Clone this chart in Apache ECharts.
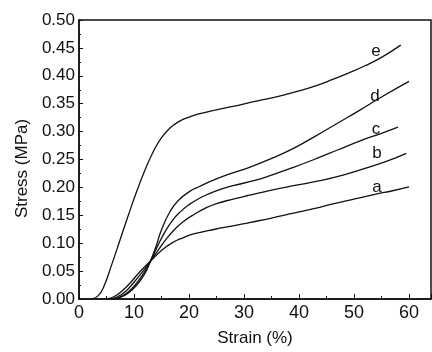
<!DOCTYPE html>
<html>
<head>
<meta charset="utf-8">
<script src="https://cdn.jsdelivr.net/npm/echarts@6/dist/echarts.min.js"></script>
<style>
  html, body { margin: 0; padding: 0; background: #fff; }
  #chart { width: 432px; height: 352px; }
</style>
</head>
<body>
<div id="chart"></div>
<script>
// strain (%) , stress (MPa)
const curveE = [[2.4,0],[3.5,0.006],[4.5,0.022],[6,0.063],[7.5,0.107],[9,0.151],[10.5,0.193],[12,0.231],[13.5,0.264],[15,0.289],[16.5,0.306],[18,0.317],[20,0.326],[22,0.332],[25,0.339],[28,0.345],[31,0.352],[34,0.358],[37,0.365],[40,0.373],[43,0.382],[46,0.393],[49,0.405],[52,0.418],[55,0.433],[58.5,0.455]]
const curveD = [[6,0],[7.5,0.003],[9,0.011],[10.5,0.025],[12,0.046],[13,0.068],[14,0.094],[15,0.124],[16.5,0.156],[18,0.176],[20,0.192],[22,0.202],[24.2,0.212],[27,0.223],[31,0.236],[35,0.252],[39,0.270],[43,0.292],[47,0.315],[51,0.338],[55,0.362],[60,0.390]]
const curveC = [[6,0],[7.5,0.004],[9,0.013],[10.5,0.029],[12,0.050],[13,0.068],[14,0.089],[15.5,0.118],[17,0.141],[18.5,0.157],[20,0.169],[22,0.181],[24.7,0.193],[28,0.203],[31.8,0.212],[35,0.222],[39,0.236],[43,0.251],[47,0.267],[51,0.283],[55,0.297],[58,0.308]]
const curveB = [[5.5,0],[7,0.004],[8.5,0.014],[10,0.030],[11.5,0.048],[13,0.068],[14.5,0.089],[16,0.109],[17.5,0.126],[19,0.139],[21,0.152],[23,0.163],[25,0.171],[28,0.179],[31,0.186],[35,0.195],[39,0.203],[43.8,0.212],[48,0.222],[52,0.234],[56,0.247],[59.5,0.261]]
const curveA = [[5,0],[6.5,0.005],[8,0.016],[9.5,0.031],[11,0.048],[13,0.068],[15,0.087],[17,0.101],[19,0.110],[21,0.117],[24.7,0.125],[28,0.131],[31,0.137],[35,0.145],[39,0.154],[42.7,0.162],[46,0.170],[50,0.179],[54,0.188],[57,0.194],[60,0.201]]

// curve letters and where they sit (data coords)
const curveNames = ['e', 'd', 'c', 'b', 'a']
const labelSpots = [[54.0, 0.443], [53.8, 0.364], [54.0, 0.304], [54.2, 0.261], [54.2, 0.201]]

const font = 'Liberation Sans, Arial, sans-serif'
const ink = '#111'

const myChart = echarts.init(document.getElementById('chart'))

const curves = [curveE, curveD, curveC, curveB, curveA]
const series = curves.map((data, i) => ({
  name: curveNames[i],
  type: 'line',
  smooth: 0.5,
  showSymbol: false,
  silent: true,
  lineStyle: { color: ink, width: 1.3 },
  data: data,
  markPoint: {
    symbol: 'circle',
    symbolSize: 0,
    label: {
      show: true,
      formatter: curveNames[i],
      color: ink,
      fontFamily: font,
      fontSize: 17,
      position: 'inside'
    },
    data: [{ coord: labelSpots[i] }]
  }
}))

myChart.setOption({
  animation: false,
  grid: { show: true, borderColor: ink, borderWidth: 1.5, left: 79, right: 1, top: 20, bottom: 49 },
  xAxis: {
    type: 'value',
    min: 0,
    max: 64,
    interval: 10,
    name: 'Strain (%)',
    nameLocation: 'middle',
    nameGap: 31,
    nameTextStyle: { fontFamily: font, fontSize: 17, color: ink },
    axisLine: { show: true, onZero: false, lineStyle: { color: ink, width: 1.5 } },
    axisTick: { show: true, inside: true, length: 5, lineStyle: { color: ink } },
    minorTick: { show: true, splitNumber: 2, length: 3, lineStyle: { color: ink } },
    axisLabel: { margin: 5, fontFamily: font, fontSize: 18, color: ink, showMaxLabel: false },
    splitLine: { show: false }
  },
  yAxis: {
    type: 'value',
    min: 0,
    max: 0.5,
    interval: 0.05,
    name: 'Stress (MPa)',
    nameLocation: 'middle',
    nameGap: 47,
    nameTextStyle: { fontFamily: font, fontSize: 17, color: ink, padding: [0, 18, 0, 0] },
    axisLine: { show: true, onZero: false, lineStyle: { color: ink, width: 1.5 } },
    axisTick: { show: true, inside: true, length: 4, lineStyle: { color: ink } },
    minorTick: { show: true, splitNumber: 2, length: 2, lineStyle: { color: ink } },
    axisLabel: {
      margin: 4,
      fontFamily: font,
      fontSize: 17,
      color: ink,
      formatter: v => v.toFixed(2)
    },
    splitLine: { show: false }
  },
  series: series
})
</script>
</body>
</html>
